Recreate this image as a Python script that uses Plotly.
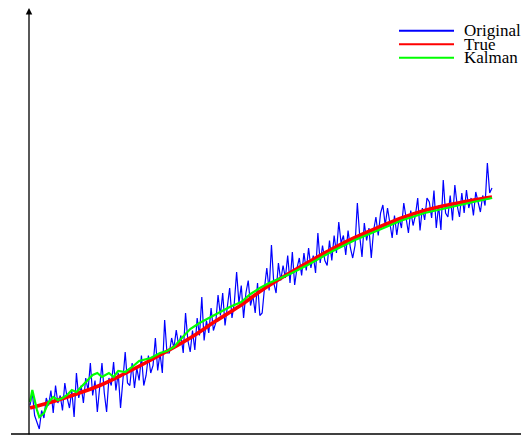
import numpy as np
import plotly.graph_objects as go

# ---- data (time step index, value) ----
original = [
    0.55, 0.80, 0.35, 0.20, 0.08, 0.45, 0.30, 0.70, 0.55, 0.85,
    0.40, 0.95, 0.60, 0.75, 0.45, 1.00, 0.70, 0.50, 0.85, 0.32,
    1.20, 0.70, 0.95, 0.60, 1.10, 0.85, 1.40, 0.75, 1.05, 0.42,
    0.90, 1.40, 0.80, 0.42, 1.10, 0.95, 1.42, 0.85, 1.20, 0.50,
    1.05, 1.62, 1.00, 0.95, 1.40, 0.90, 1.30, 1.05, 1.55, 0.95,
    1.15, 1.55, 1.20, 1.35, 1.90, 1.25, 1.60, 1.20, 2.26, 1.60,
    1.60, 1.90, 1.70, 2.06, 1.75, 1.95, 1.60, 2.40, 1.85, 1.62,
    2.05, 1.66, 2.30, 1.95, 2.72, 1.85, 2.25, 2.00, 2.50, 2.05,
    2.20, 2.76, 2.35, 2.80, 2.15, 2.50, 2.90, 2.30, 2.60, 3.22,
    2.60, 2.95, 2.30, 2.80, 3.05, 2.55, 2.75, 2.40, 3.00, 2.35,
    2.40, 2.90, 3.30, 2.85, 3.76, 3.00, 2.80, 3.40, 3.05, 3.35,
    3.10, 3.55, 3.00, 3.62, 2.96, 3.30, 3.50, 3.15, 3.60, 3.25,
    3.70, 3.30, 3.55, 3.20, 4.00, 3.40, 3.75, 3.45, 3.35, 3.85,
    3.45, 3.95, 3.60, 4.22, 3.80, 3.95, 3.56, 4.05, 3.70, 3.50,
    3.75, 4.60, 3.95, 3.52, 4.20, 3.85, 4.10, 3.50, 4.05, 4.32,
    3.95, 4.40, 4.56, 4.15, 4.50, 4.20, 3.90, 4.35, 3.96, 4.30,
    4.10, 4.60, 4.25, 4.00, 4.45, 4.15, 4.35, 4.70, 4.05, 4.50,
    4.26, 4.70, 4.62, 4.30, 4.85, 4.10, 4.55, 4.06, 5.06, 4.40,
    4.32, 4.75, 4.25, 4.96, 4.55, 4.32, 4.80, 4.40, 4.86, 4.50,
    4.70, 4.35, 4.82, 4.60, 4.42, 4.75, 4.55, 5.40, 4.80, 4.90,
]
steps = list(range(len(original)))

true_steps = [0, 10, 20, 30, 40, 50, 60, 70, 80, 90, 100,
              110, 120, 130, 140, 150, 160, 170, 180, 190, 199]
true_vals = [0.50, 0.63, 0.78, 0.95, 1.17, 1.41, 1.66, 1.93, 2.24, 2.53, 2.86,
             3.15, 3.42, 3.68, 3.91, 4.11, 4.30, 4.45, 4.56, 4.65, 4.72]

kalman_steps = [0, 1, 3, 4, 6, 8, 10, 12, 14, 16, 18, 20, 22, 25, 27, 29, 31, 34,
                36, 38, 41, 44, 47, 52, 56, 59, 62, 65, 69, 73, 78, 82, 86, 91,
                95, 99, 103, 108, 112, 120, 130, 140, 150, 160, 170, 180, 190, 199]
kalman_vals = [0.62, 0.86, 0.46, 0.32, 0.40, 0.62, 0.72, 0.66, 0.70, 0.76, 0.86,
               0.82, 0.92, 1.06, 1.16, 1.20, 1.12, 1.20, 1.12, 1.24, 1.22, 1.32,
               1.44, 1.50, 1.60, 1.64, 1.72, 1.88, 2.08, 2.20, 2.32, 2.42, 2.52,
               2.62, 2.78, 2.90, 3.00, 3.10, 3.18, 3.37, 3.63, 3.86, 4.06, 4.25,
               4.40, 4.51, 4.61, 4.70]

legend_names = ["Original", "True", "Kalman"]
legend_colors = ["#0000ff", "#ff0000", "#00ff00"]

W, H = 521, 439

fig = go.Figure()
fig.add_trace(go.Scatter(x=steps, y=original, mode="lines",
                         line=dict(color=legend_colors[0], width=1.2),
                         name=legend_names[0]))
fig.add_trace(go.Scatter(x=true_steps, y=true_vals, mode="lines",
                         line=dict(color=legend_colors[1], width=3.6, shape="spline"),
                         name=legend_names[1]))
fig.add_trace(go.Scatter(x=kalman_steps, y=kalman_vals, mode="lines",
                         line=dict(color=legend_colors[2], width=2.2),
                         name=legend_names[2]))

def px(xp):
    return xp / W

def py(yp):
    return 1 - yp / H

shapes = [
    # x axis
    dict(type="line", xref="paper", yref="paper", x0=px(11), x1=px(521),
         y0=py(434), y1=py(434), line=dict(color="black", width=1.3)),
]
annotations = [
    # y axis with arrow
    dict(xref="paper", yref="paper", x=px(29), y=py(8), ax=0, ay=428,
         showarrow=True, arrowhead=2, arrowsize=1, arrowwidth=1.3,
         arrowcolor="black", text="", standoff=0, startstandoff=0),
]
leg_y = [30.7, 44.2, 57.7]
for name, color, yy in zip(legend_names, legend_colors, leg_y):
    shapes.append(dict(type="line", xref="paper", yref="paper",
                       x0=px(399), x1=px(454), y0=py(yy), y1=py(yy),
                       line=dict(color=color, width=2)))
    annotations.append(dict(xref="paper", yref="paper", x=px(462), y=py(yy),
                            xanchor="left", yanchor="middle", showarrow=False,
                            text=name,
                            font=dict(family="Liberation Serif", size=17, color="black")))

fig.update_layout(
    width=W, height=H,
    margin=dict(l=0, r=0, t=0, b=0),
    paper_bgcolor="white", plot_bgcolor="white",
    showlegend=False,
    xaxis=dict(range=[-30 * 199 / 462, (W - 30) * 199 / 462], visible=False),
    yaxis=dict(range=[(433 - H) / 50, 433 / 50], visible=False),
    shapes=shapes,
    annotations=annotations,
)

fig.write_html("out.html", config={"displayModeBar": False},
               post_script="document.body.style.margin='0';document.body.style.overflow='hidden';")
